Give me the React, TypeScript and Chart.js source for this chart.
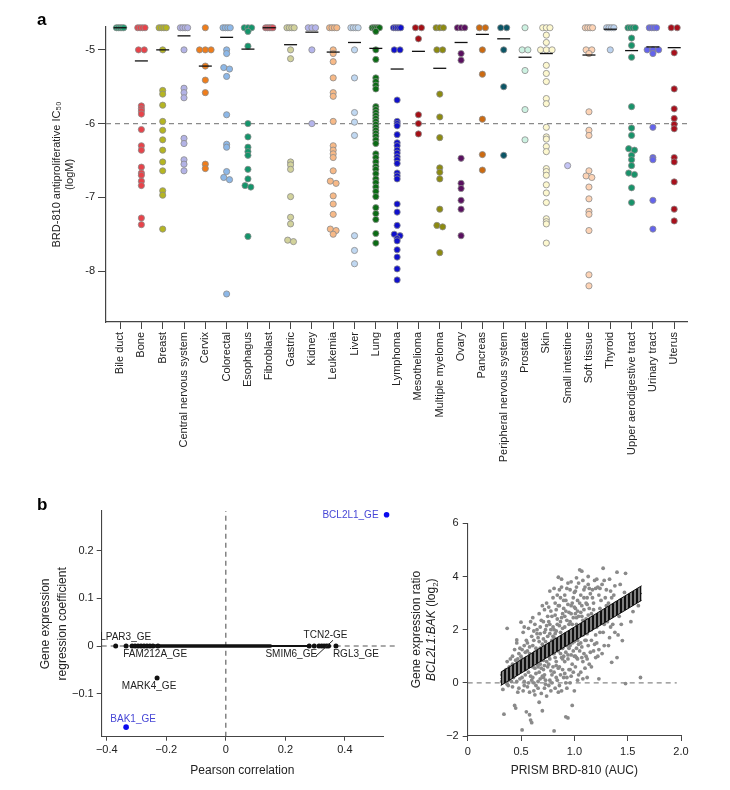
import React, { useEffect, useRef } from 'react';
import { Chart, registerables } from 'chart.js';

Chart.register(...registerables);

const FONT = '"Liberation Sans", Arial, Helvetica, sans-serif';
const NARROW = '"Liberation Sans Narrow", "Arial Narrow", "Liberation Sans", Arial, sans-serif';
Chart.defaults.font.family = FONT;

// ---------------- Panel a data ----------------
const TOP = -4.7;

const categories = [
  'Bile duct', 'Bone', 'Breast', 'Central nervous system', 'Cervix', 'Colorectal', 'Esophagus',
  'Fibroblast', 'Gastric', 'Kidney', 'Leukemia', 'Liver', 'Lung', 'Lymphoma', 'Mesothelioma',
  'Multiple myeloma', 'Ovary', 'Pancreas', 'Peripheral nervous system', 'Prostate', 'Skin',
  'Small intestine', 'Soft tissue', 'Thyroid', 'Upper aerodigestive tract', 'Urinary tract', 'Uterus',
];

const categoryColors = [
  '#1f9e73', '#e8434a', '#b5b521', '#b3b3e6', '#f07d1a', '#8db8e8', '#14956b',
  '#e0505a', '#d2d29b', '#b5b5ec', '#f7b987', '#c0d8f2', '#0b6b14', '#1010cc', '#a50f15',
  '#8c8a10', '#5a1060', '#cc6a10', '#0b5566', '#cdf2e2', '#fdf8cf',
  '#c4c4f5', '#fdd3b5', '#bcd3f0', '#17936a', '#6464ec', '#a8101c',
];

const bileDuct = [-4.7, -4.7, -4.7, -4.7, -4.7];
const bone = [-4.7, -4.7, -4.7, -4.7, -5.0, -5.0, -5.76, -5.8, -5.83, -5.87, -6.08, -6.3, -6.36, -6.59, -6.67, -6.7, -6.78, -6.84, -7.28, -7.37];
const breast = [-4.7, -4.7, -4.7, -4.7, -5.0, -5.55, -5.6, -5.75, -5.97, -6.09, -6.22, -6.36, -6.52, -6.64, -6.91, -6.97, -7.43];
const cns = [-4.7, -4.7, -4.7, -4.7, -5.0, -5.52, -5.58, -5.65, -6.2, -6.27, -6.49, -6.55, -6.64];
const cervix = [-4.7, -5.0, -5.0, -5.0, -5.22, -5.41, -5.58, -6.55, -6.61];
const colorectal = [-4.7, -4.7, -4.7, -4.7, -5.0, -5.05, -5.24, -5.26, -5.36, -5.88, -6.28, -6.32, -6.65, -6.73, -6.76, -8.31];
const esophagus = [-4.7, -4.7, -4.7, -4.75, -4.95, -6.0, -6.18, -6.32, -6.38, -6.43, -6.62, -6.75, -6.84, -6.86, -7.53];
const fibroblast = [-4.7, -4.7, -4.7, -4.7, -4.7];
const gastric = [-4.7, -4.7, -4.7, -4.7, -5.0, -5.12, -6.52, -6.56, -6.62, -6.99, -7.27, -7.36, -7.58, -7.6];
const kidney = [-4.7, -4.7, -4.7, -5.0, -6.0];
const leukemia = [-4.7, -4.7, -4.7, -4.7, -5.0, -5.05, -5.16, -5.38, -5.58, -5.63, -5.97, -6.3, -6.36, -6.41, -6.46, -6.64, -6.78, -6.81, -6.98, -7.09, -7.23, -7.43, -7.45, -7.5];
const liver = [-4.7, -4.7, -4.7, -4.7, -5.0, -5.38, -5.85, -5.98, -6.16, -7.52, -7.72, -7.9];
const lung = [-4.7, -4.7, -4.7, -4.7, -4.7, -4.75, -5.0, -5.13, -5.38, -5.43, -5.48, -5.53, -5.77, -5.81, -5.85, -5.89, -5.93, -5.97, -6.01, -6.05, -6.09, -6.13, -6.17, -6.22, -6.27, -6.41, -6.46, -6.52, -6.58, -6.62, -6.68, -6.75, -6.8, -6.86, -6.92, -6.99, -7.14, -7.22, -7.3, -7.49, -7.62];
const lymphoma = [-4.7, -4.7, -4.7, -4.7, -4.7, -5.0, -5.0, -5.68, -5.97, -6.0, -6.03, -6.15, -6.26, -6.3, -6.36, -6.4, -6.45, -6.49, -6.54, -6.67, -6.71, -6.75, -7.09, -7.2, -7.38, -7.5, -7.52, -7.56, -7.59, -7.71, -7.81, -7.97, -8.12];
const mesothelioma = [-4.7, -4.7, -4.85, -5.88, -6.0, -6.14];
const multipleMyeloma = [-4.7, -4.7, -4.7, -5.0, -5.0, -5.6, -5.91, -6.19, -6.6, -6.66, -6.75, -7.16, -7.38, -7.4, -7.75];
const ovary = [-4.7, -4.7, -4.7, -5.05, -5.14, -6.47, -6.81, -6.88, -7.04, -7.16, -7.52];
const pancreas = [-4.7, -4.7, -5.0, -5.33, -5.94, -6.42, -6.63];
const pns = [-4.7, -4.7, -5.0, -5.5, -6.43];
const prostate = [-4.7, -5.0, -5.0, -5.28, -5.81, -6.22];
const skin = [-4.7, -4.7, -4.7, -4.8, -4.9, -5.0, -5.0, -5.0, -5.21, -5.32, -5.43, -5.66, -5.73, -6.05, -6.18, -6.21, -6.31, -6.38, -6.61, -6.65, -6.7, -6.83, -6.94, -7.07, -7.29, -7.33, -7.36, -7.62];
const smallIntestine = [-6.57];
const softTissue = [-4.7, -4.7, -4.7, -4.7, -5.0, -5.0, -5.05, -5.84, -6.09, -6.16, -6.64, -6.71, -6.73, -6.86, -7.02, -7.19, -7.23, -7.45, -8.05, -8.2];
const thyroid = [-4.7, -4.7, -4.7, -4.7, -5.0];
const upperAerodigestive = [-4.7, -4.7, -4.7, -4.7, -4.84, -4.94, -5.1, -5.77, -6.06, -6.16, -6.34, -6.36, -6.43, -6.49, -6.57, -6.67, -6.69, -6.87, -7.07];
const urinaryTract = [-4.7, -4.7, -4.7, -4.7, -5.0, -5.0, -5.0, -5.05, -6.05, -6.46, -6.49, -7.04, -7.43];
const uterus = [-4.7, -4.7, -5.04, -5.53, -5.8, -5.93, -6.01, -6.07, -6.46, -6.52, -6.79, -7.16, -7.32];

const ic50ByCategory = [
  bileDuct, bone, breast, cns, cervix, colorectal, esophagus, fibroblast, gastric, kidney, leukemia,
  liver, lung, lymphoma, mesothelioma, multipleMyeloma, ovary, pancreas, pns, prostate, skin,
  smallIntestine, softTissue, thyroid, upperAerodigestive, urinaryTract, uterus,
];

const medianIC50: (number | null)[] = [
  -4.7, -5.15, -5.0, -4.81, -5.22, -4.83, -4.99, -4.7, -4.93, -4.76, -5.03, -4.9, -4.98, -5.26,
  -5.02, -5.25, -4.9, -4.79, -4.85, -5.1, -5.05, null, -5.07, -4.72, -5.01, -4.96, -4.97,
];
const ic50Ticks = [-8, -7, -6, -5];
const ic50Threshold = -6;

// ---------------- Panel b (left) data ----------------
const geneCorrelation = [-0.37, -0.335, -0.315, -0.305, -0.295, -0.285, -0.275, -0.265, -0.255, -0.245, -0.228, 0.28, 0.297, 0.313, 0.322, 0.33, 0.338, 0.345, 0.37, -0.231];
const geneCoefficient = [0, 0, 0, 0, 0, 0, 0, 0, 0, 0, 0, 0, 0, 0, 0, 0, 0, 0, 0, -0.067];
const highlightCorrelation = [-0.335, 0.54];
const highlightCoefficient = [-0.17, 0.275];
const bulkCorrelation = [-0.31, 0.15, 0.28];
const corrTicks = [-0.4, -0.2, 0, 0.2, 0.4];
const coefTicks = [-0.1, 0, 0.1, 0.2];
const geneLabels = [
  { text: 'BCL2L1_GE', x: 0.54, y: 0.275, blue: true },
  { text: 'BAK1_GE', x: -0.335, y: -0.17, blue: true },
  { text: 'LPAR3_GE', x: -0.37, y: 0 },
  { text: 'FAM212A_GE', x: -0.335, y: 0 },
  { text: 'MARK4_GE', x: -0.231, y: -0.067 },
  { text: 'TCN2-GE', x: 0.335, y: 0 },
  { text: 'SMIM6_GE', x: 0.297, y: 0 },
  { text: 'RGL3_GE', x: 0.37, y: 0 },
];
const labelLayout = [
  { dx: -8, dy: 0, align: 'right' },
  { dx: 7, dy: -8, align: 'center' },
  { dx: 10, dy: -9, align: 'center' },
  { dx: 29, dy: 8.5, align: 'center' },
  { dx: -8, dy: 8, align: 'center' },
  { dx: 0, dy: -10.5, align: 'center' },
  { dx: -23, dy: 8, align: 'center' },
  { dx: 20, dy: 8, align: 'center' },
];
const leaderLine = [[0.303, -0.021], [0.36, 0.012]];

// ---------------- Panel b (right) data ----------------
const prismPoints: [number, number][] = [
  [0.32, 0.05], [0.33, -0.25], [0.34, 0.4], [0.33, 0.2], [0.34, -1.18], [0.35, 0.15], [0.32, 0.3], [0.35, 0.45],
  [0.37, 2.05], [0.36, 0.5], [0.38, 0.1], [0.37, 0.8], [0.39, 0.35], [0.38, -0.1], [0.36, 0.25], [0.39, 0.6], [0.4, 0.9], [0.37, -0.05],
  [0.41, 0.45], [0.42, 1.0], [0.43, 0.2], [0.44, -0.85], [0.45, -0.95], [0.42, 0.7], [0.44, 1.25], [0.41, 0.05], [0.43, 0.55], [0.45, 0.85], [0.44, 0.3], [0.42, -0.15],
  [0.46, 1.61], [0.47, 0.9], [0.48, 0.4], [0.46, 0.05], [0.49, 1.3], [0.47, 0.65], [0.48, -0.2], [0.5, 2.28], [0.49, 0.75], [0.46, 0.35], [0.48, 1.1], [0.5, 0.5], [0.47, -0.35], [0.49, 0.15], [0.46, 1.5], [0.5, 1.0],
  [0.51, -1.77], [0.52, 0.6], [0.53, 1.4], [0.51, 0.9], [0.54, 0.3], [0.52, 1.9], [0.53, -0.1], [0.55, -1.09], [0.54, 1.15], [0.51, 0.2], [0.55, 0.75], [0.53, 2.1], [0.52, -0.3], [0.54, 0.5], [0.55, 1.6], [0.51, 1.25], [0.53, 0.05], [0.55, 0.95],
  [0.56, 1.5], [0.57, 0.4], [0.58, -1.2], [0.59, -1.4], [0.6, -1.5], [0.56, 0.85], [0.57, 2.05], [0.58, 1.1], [0.59, 0.25], [0.56, -0.15], [0.6, 1.75], [0.57, 0.6], [0.58, 1.35], [0.59, 0.95], [0.6, 0.1], [0.56, 1.2], [0.58, -0.35], [0.59, 2.3], [0.57, 0.0], [0.6, 0.65],
  [0.61, 1.4], [0.62, 0.8], [0.63, 2.2], [0.61, 0.2], [0.64, 1.1], [0.62, -0.3], [0.63, 0.55], [0.65, 1.85], [0.61, 0.95], [0.64, 0.35], [0.62, 1.6], [0.63, -0.45], [0.65, 0.7], [0.61, 2.45], [0.64, 1.3], [0.62, 0.0], [0.65, 1.0], [0.63, 1.15], [0.64, -0.1], [0.61, 0.6], [0.65, 2.0], [0.62, 1.95],
  [0.67, -0.73], [0.7, -1.05], [0.66, 1.2], [0.67, 0.4], [0.68, 2.1], [0.69, 0.85], [0.66, 1.7], [0.68, 0.15], [0.7, 1.45], [0.67, 2.6], [0.69, 0.55], [0.66, -0.2], [0.7, 1.0], [0.68, 1.3], [0.67, 0.9], [0.69, 2.35], [0.66, 0.6], [0.7, 0.25], [0.68, 1.85], [0.69, -0.4], [0.67, 1.55], [0.7, 2.9], [0.66, 0.05], [0.68, 0.7],
  [0.71, 1.2], [0.72, 0.3], [0.73, 2.0], [0.74, 0.8], [0.71, 1.65], [0.72, -0.2], [0.73, 1.0], [0.75, 2.5], [0.71, 0.5], [0.74, 1.4], [0.72, 2.75], [0.73, 0.1], [0.75, 1.1], [0.71, 0.85], [0.74, -0.5], [0.72, 1.9], [0.73, 1.55], [0.75, 0.6], [0.71, 2.3], [0.74, 3.0], [0.72, 0.65], [0.73, -0.05], [0.75, 1.75], [0.71, 0.2], [0.74, 2.15], [0.73, 1.3],
  [0.76, 1.0], [0.77, 2.2], [0.78, 0.45], [0.79, 1.6], [0.76, 2.85], [0.77, 0.1], [0.78, 1.3], [0.8, 3.2], [0.76, 0.7], [0.79, 2.5], [0.77, 1.85], [0.78, -0.3], [0.8, 1.1], [0.76, 1.45], [0.79, 0.3], [0.77, 3.45], [0.78, 2.0], [0.8, 0.6], [0.76, -0.1], [0.79, 1.25], [0.77, 0.9], [0.78, 2.7], [0.8, 1.75], [0.76, 2.3], [0.79, 0.0], [0.8, 2.1],
  [0.81, -1.81], [0.82, 1.5], [0.83, 0.8], [0.84, 2.4], [0.81, 1.1], [0.82, 3.0], [0.83, 0.2], [0.85, 3.97], [0.81, 2.0], [0.84, 1.3], [0.82, -0.2], [0.83, 2.75], [0.85, 0.55], [0.81, 1.7], [0.84, 3.3], [0.82, 0.95], [0.83, 1.95], [0.85, 1.2], [0.81, 0.4], [0.84, 2.2], [0.82, 2.55], [0.83, 1.45], [0.85, -0.35], [0.81, 3.55], [0.84, 0.1], [0.82, 1.85], [0.83, 0.65], [0.85, 2.9],
  [0.86, 1.4], [0.87, 2.3], [0.88, 3.9], [0.89, 0.9], [0.86, 2.9], [0.87, 0.3], [0.88, 1.75], [0.9, 3.1], [0.86, 0.6], [0.89, 2.05], [0.87, 1.1], [0.88, -0.3], [0.9, 1.5], [0.86, 3.5], [0.89, 2.6], [0.87, 1.9], [0.88, 0.95], [0.9, 0.2], [0.86, 2.15], [0.89, 1.3], [0.87, 3.2], [0.88, 2.45], [0.9, 2.8], [0.86, -0.1], [0.89, 0.5], [0.87, 1.6], [0.88, 3.6], [0.9, 1.0],
  [0.91, 2.1], [0.92, -1.28], [0.94, -1.32], [0.93, 1.4], [0.94, 3.75], [0.91, 0.8], [0.92, 2.7], [0.93, 0.2], [0.95, 1.9], [0.91, 3.3], [0.92, 1.15], [0.93, 2.35], [0.95, 0.5], [0.91, 1.6], [0.94, 2.95], [0.92, 0.0], [0.93, 3.55], [0.95, 1.3], [0.91, 2.5], [0.94, 0.9], [0.92, 1.85], [0.93, -0.2], [0.95, 2.65], [0.91, 0.35], [0.94, 1.05], [0.92, 3.1], [0.93, 1.7], [0.95, 2.2],
  [0.98, -0.85], [0.96, 1.4], [0.97, 2.6], [0.98, 0.7], [0.99, 3.2], [0.96, 1.9], [0.97, 0.25], [0.98, 2.2], [1.0, -0.3], [0.96, 3.5], [0.99, 1.2], [0.97, 1.65], [0.98, 3.0], [1.0, 1.0], [0.96, 0.5], [0.99, 2.45], [0.97, 3.8], [0.98, 1.5], [1.0, 2.85], [0.96, 2.3], [0.99, 0.4], [0.97, 1.05], [0.98, 2.0], [1.0, 3.4], [0.96, 0.0], [0.99, 1.75], [0.97, 2.9], [1.0, 1.55],
  [1.01, 1.9], [1.02, 3.6], [1.03, 0.9], [1.04, 2.5], [1.05, 4.25], [1.01, 2.8], [1.02, 1.3], [1.03, 3.1], [1.04, 0.3], [1.01, 0.6], [1.02, 2.2], [1.03, 1.6], [1.05, 3.0], [1.01, 3.45], [1.04, 1.95], [1.02, 0.95], [1.03, 2.7], [1.05, 1.2], [1.01, 1.0], [1.04, 3.75], [1.02, 2.45], [1.03, 0.1], [1.05, 2.05], [1.01, 2.6], [1.04, 1.45], [1.02, 3.95],
  [1.07, 4.2], [1.06, 1.5], [1.07, 2.9], [1.08, 0.8], [1.09, 2.2], [1.06, 3.3], [1.08, 1.8], [1.1, 3.6], [1.06, 0.4], [1.09, 1.1], [1.07, 2.5], [1.08, 3.85], [1.1, 1.6], [1.06, 2.1], [1.09, 2.75], [1.07, 0.95], [1.08, 2.35], [1.1, 0.55], [1.06, 2.65], [1.09, 3.2], [1.07, 1.35], [1.08, 0.15], [1.1, 2.0], [1.09, 3.5],
  [1.12, 0.2], [1.11, 2.4], [1.12, 3.2], [1.13, 1.4], [1.14, 2.8], [1.11, 1.0], [1.13, 3.7], [1.15, 2.1], [1.11, 3.0], [1.12, 1.85], [1.14, 0.7], [1.13, 2.55], [1.15, 3.35], [1.11, 1.6], [1.14, 2.0], [1.12, 2.95], [1.15, 1.15], [1.13, 4.0], [1.14, 3.55], [1.12, 0.9],
  [1.16, 2.6], [1.17, 3.5], [1.18, 1.2], [1.19, 2.2], [1.16, 0.6], [1.18, 3.0], [1.2, 1.8], [1.17, 2.45], [1.19, 3.85], [1.16, 1.6], [1.18, 2.75], [1.2, 0.95], [1.17, 3.2], [1.19, 1.45], [1.16, 2.0], [1.2, 3.55],
  [1.21, 2.1], [1.22, 3.6], [1.23, 0.15], [1.21, 1.5], [1.24, 2.8], [1.22, 1.0], [1.23, 3.3], [1.25, 2.4], [1.21, 3.9], [1.24, 1.9], [1.22, 2.55], [1.25, 3.1], [1.23, 1.25], [1.24, 3.55],
  [1.27, 4.31], [1.26, 2.5], [1.28, 1.4], [1.29, 3.2], [1.26, 3.7], [1.28, 2.2], [1.3, 2.9], [1.27, 1.9], [1.29, 2.6], [1.3, 3.5], [1.26, 1.1], [1.28, 3.85],
  [1.31, 2.3], [1.32, 3.0], [1.33, 1.7], [1.34, 3.45], [1.35, 0.77], [1.31, 2.7], [1.33, 3.9], [1.34, 2.1], [1.32, 1.4], [1.35, 3.2],
  [1.36, 2.6], [1.37, 3.3], [1.38, 1.9], [1.4, 0.95], [1.4, 4.16], [1.36, 2.2], [1.39, 3.0], [1.38, 3.65],
  [1.42, 2.5], [1.43, 3.1], [1.45, 1.59], [1.48, -0.03], [1.48, 4.12], [1.44, 2.2], [1.46, 2.8], [1.41, 1.8], [1.47, 3.4], [1.43, 3.7],
  [1.52, 3.0], [1.55, 2.68], [1.58, 3.2], [1.62, 0.2], [1.53, 2.3], [1.6, 2.9],
];
const regressionX = [0.31, 1.63];
const regressionFit = [0.15, 3.37];
const regressionLower = [-0.1, 3.1];
const regressionUpper = [0.4, 3.65];
const aucTicks = [0, 0.5, 1.0, 1.5, 2.0];
const ratioTicks = [-2, 0, 2, 4, 6];

// ---------------- helpers ----------------
function swarmOffsets(values: number[]) {
  const offs = values.map(() => 0);
  const top = values.map((v, i) => (v === TOP ? i : -1)).filter((i) => i >= 0);
  if (top.length === 2) {
    offs[top[0]] = -0.14;
    offs[top[1]] = 0.14;
  } else if (top.length > 2) {
    top.forEach((idx, k) => (offs[idx] = -0.17 + (0.34 * k) / (top.length - 1)));
  }
  const rest = values
    .map((v, i) => ({ v, i }))
    .filter((o) => o.v !== TOP)
    .sort((a, b) => b.v - a.v);
  let g: { v: number; i: number }[] = [];
  const flush = () => {
    g.forEach((o, k) => (offs[o.i] = (k - (g.length - 1) / 2) * 0.27));
    g = [];
  };
  for (const o of rest) {
    if (g.length && Math.abs(g[0].v - o.v) > 0.03) flush();
    g.push(o);
  }
  flush();
  return offs;
}

const minus = (s: string) => s.replace('-', '\u2212');

const axisCommon = {
  border: { color: '#444', width: 1.2 },
};

function panelLetter(letter: string, x: number, y: number) {
  return {
    id: 'letter' + letter,
    afterDraw(chart: any) {
      const ctx = chart.ctx;
      ctx.save();
      ctx.fillStyle = '#000';
      ctx.font = `bold 17px ${FONT}`;
      ctx.textAlign = 'left';
      ctx.textBaseline = 'alphabetic';
      ctx.fillText(letter, x, y);
      ctx.restore();
    },
  };
}

// ---------------- Panel a ----------------
function panelAConfig(): any {
  const datasets: any[] = [];
  datasets.push({
    data: medianIC50.map((m, i) => (m === null ? null : { x: i, y: m })).filter(Boolean),
    pointStyle: 'line',
    pointRadius: 6.5,
    borderColor: '#111',
    backgroundColor: '#111',
    borderWidth: 1.3,
    order: 0,
    clip: false,
  });
  ic50ByCategory.forEach((vals, i) => {
    const offs = swarmOffsets(vals);
    datasets.push({
      data: vals.map((v, k) => ({ x: i + offs[k], y: v })),
      backgroundColor: categoryColors[i],
      borderColor: '#8c8c8c',
      borderWidth: 0.8,
      pointRadius: 3.1,
      order: 1,
      clip: false,
    });
  });
  datasets.push({
    data: [
      { x: -0.66, y: ic50Threshold },
      { x: 26.6, y: ic50Threshold },
    ],
    showLine: true,
    borderColor: '#8a8a8a',
    borderWidth: 1.4,
    borderDash: [5, 4],
    pointRadius: 0,
    order: 2,
  });

  return {
    type: 'scatter',
    data: { datasets },
    options: {
      responsive: false,
      animation: false,
      devicePixelRatio: 1,
      events: [],
      layout: { padding: { left: 50, top: 27, right: 43, bottom: 0 } },
      plugins: { legend: { display: false }, tooltip: { enabled: false } },
      scales: {
        x: {
          type: 'linear',
          min: -0.66,
          max: 26.6,
          afterBuildTicks: (s: any) => {
            s.ticks = categories.map((_, i) => ({ value: i }));
          },
          afterFit: (s: any) => {
            s.height = 168;
          },
          ticks: {
            autoSkip: false,
            minRotation: 90,
            maxRotation: 90,
            padding: 3,
            color: '#222',
            font: { family: FONT, size: 11 },
            callback: (v: number) => categories[v],
          },
          grid: { drawOnChartArea: false, tickLength: 7, color: '#444' },
          ...axisCommon,
        },
        y: {
          min: -8.69,
          max: -4.69,
          afterBuildTicks: (s: any) => {
            s.ticks = ic50Ticks.map((v) => ({ value: v }));
          },
          afterFit: (s: any) => {
            s.width = 56;
          },
          ticks: { padding: 3, color: '#222', font: { family: FONT, size: 11 } },
          grid: { drawOnChartArea: false, tickLength: 8, color: '#444' },
          title: {
            display: true,
            text: ['BRD-810 antiproliferative IC\u2085\u2080', '(logM)'],
            color: '#222',
            font: { family: FONT, size: 11 },
            padding: 0,
          },
          ...axisCommon,
        },
      },
    },
    plugins: [panelLetter('a', 37, 25)],
  };
}

// ---------------- Panel b (left) ----------------
function panelBConfig(): any {
  const labelPlugin = {
    id: 'geneLabels',
    afterDatasetsDraw(chart: any) {
      const { ctx, scales } = chart;
      const xs = scales.x;
      const ys = scales.y;
      ctx.save();
      ctx.strokeStyle = '#222';
      ctx.lineWidth = 1;
      ctx.beginPath();
      ctx.moveTo(xs.getPixelForValue(leaderLine[0][0]), ys.getPixelForValue(leaderLine[0][1]));
      ctx.lineTo(xs.getPixelForValue(leaderLine[1][0]), ys.getPixelForValue(leaderLine[1][1]));
      ctx.stroke();
      ctx.font = `10px ${NARROW}`;
      ctx.textBaseline = 'middle';
      geneLabels.forEach((l, i) => {
        const lay = labelLayout[i];
        ctx.fillStyle = l.blue ? '#4646d6' : '#222';
        ctx.textAlign = lay.align;
        ctx.fillText(l.text, xs.getPixelForValue(l.x) + lay.dx, ys.getPixelForValue(l.y) + lay.dy);
      });
      ctx.restore();
    },
  };

  const datasets: any[] = [
    {
      data: highlightCorrelation.map((x, i) => ({ x, y: highlightCoefficient[i] })),
      backgroundColor: '#0a0aee',
      borderWidth: 0,
      pointRadius: 2.8,
      order: 0,
      clip: false,
    },
    {
      data: geneCorrelation.map((x, i) => ({ x, y: geneCoefficient[i] })),
      backgroundColor: '#111',
      borderWidth: 0,
      pointRadius: 2.5,
      order: 1,
    },
    {
      data: [
        { x: bulkCorrelation[0], y: 0 },
        { x: bulkCorrelation[1], y: 0 },
      ],
      showLine: true,
      borderColor: '#111',
      borderWidth: 3.5,
      borderCapStyle: 'round',
      pointRadius: 0,
      order: 1,
    },
    {
      data: [
        { x: bulkCorrelation[1], y: 0 },
        { x: bulkCorrelation[2], y: 0 },
      ],
      showLine: true,
      borderColor: '#111',
      borderWidth: 2,
      borderCapStyle: 'round',
      pointRadius: 0,
      order: 1,
    },
    {
      data: [
        { x: -0.417, y: 0 },
        { x: 0.575, y: 0 },
      ],
      showLine: true,
      borderColor: '#555',
      borderWidth: 1.1,
      borderDash: [5, 4],
      pointRadius: 0,
      order: 2,
      clip: false,
    },
    {
      data: [
        { x: 0, y: -0.19 },
        { x: 0, y: 0.283 },
      ],
      showLine: true,
      borderColor: '#555',
      borderWidth: 1.1,
      borderDash: [5, 4],
      pointRadius: 0,
      order: 2,
    },
  ];

  const fmt = (v: number) => (v === 0 ? '0' : minus(v.toFixed(1)));

  return {
    type: 'scatter',
    data: { datasets },
    options: {
      responsive: false,
      animation: false,
      devicePixelRatio: 1,
      events: [],
      layout: { padding: { left: 37, top: 21, right: 17, bottom: 0 } },
      plugins: { legend: { display: false }, tooltip: { enabled: false } },
      scales: {
        x: {
          type: 'linear',
          min: -0.417,
          max: 0.528,
          afterBuildTicks: (s: any) => {
            s.ticks = corrTicks.map((v) => ({ value: v }));
          },
          afterFit: (s: any) => {
            s.height = 53.3;
          },
          ticks: { padding: 3, color: '#222', font: { family: FONT, size: 11 }, callback: fmt },
          grid: { drawOnChartArea: false, tickLength: 4, color: '#444' },
          title: {
            display: true,
            text: 'Pearson correlation',
            color: '#222',
            font: { family: FONT, size: 12 },
            padding: { top: 0, bottom: 12 },
          },
          border: { color: '#444', width: 1.1 },
        },
        y: {
          min: -0.19,
          max: 0.283,
          afterBuildTicks: (s: any) => {
            s.ticks = coefTicks.map((v) => ({ value: v }));
          },
          afterFit: (s: any) => {
            s.width = 64.7;
          },
          ticks: { padding: 3, color: '#222', font: { family: FONT, size: 11 }, callback: fmt },
          grid: { drawOnChartArea: false, tickLength: 5, color: '#444' },
          title: {
            display: true,
            text: ['Gene expression', 'regression coefficient'],
            color: '#222',
            font: { family: FONT, size: 12, lineHeight: 1.4 },
            padding: 0,
          },
          border: { color: '#444', width: 1.1 },
        },
      },
    },
    plugins: [labelPlugin, panelLetter('b', 37, 20)],
  };
}

// ---------------- Panel b (right) ----------------
function panelCConfig(): any {
  const pc = document.createElement('canvas');
  pc.width = 4;
  pc.height = 4;
  const pctx = pc.getContext('2d')!;
  pctx.fillStyle = '#808080';
  pctx.fillRect(0, 0, 4, 4);
  pctx.fillStyle = '#111';
  pctx.fillRect(0, 0, 2, 4);
  const hatch = pctx.createPattern(pc, 'repeat');

  const titlePlugin = {
    id: 'ratioTitle',
    afterDraw(chart: any) {
      const { ctx, chartArea } = chart;
      const cy = (chartArea.top + chartArea.bottom) / 2;
      ctx.save();
      ctx.fillStyle = '#222';
      ctx.translate(17, cy);
      ctx.rotate(-Math.PI / 2);
      ctx.textAlign = 'center';
      ctx.textBaseline = 'middle';
      ctx.font = `12px ${FONT}`;
      ctx.fillText('Gene expression ratio', 0, 0);
      ctx.restore();

      const segs = [
        { t: 'BCL2L1:BAK', f: `italic 12px ${FONT}`, dy: 0 },
        { t: ' (log', f: `12px ${FONT}`, dy: 0 },
        { t: '2', f: `8px ${FONT}`, dy: 3.5 },
        { t: ')', f: `12px ${FONT}`, dy: 0 },
      ];
      ctx.save();
      ctx.fillStyle = '#222';
      ctx.translate(32, cy);
      ctx.rotate(-Math.PI / 2);
      ctx.textAlign = 'left';
      ctx.textBaseline = 'middle';
      let total = 0;
      segs.forEach((s) => {
        ctx.font = s.f;
        total += ctx.measureText(s.t).width;
      });
      let x = -total / 2;
      segs.forEach((s) => {
        ctx.font = s.f;
        ctx.fillText(s.t, x, s.dy);
        x += ctx.measureText(s.t).width;
      });
      ctx.restore();
    },
  };

  const datasets: any[] = [
    {
      data: regressionX.map((x, i) => ({ x, y: regressionLower[i] })),
      showLine: true,
      borderColor: '#111',
      borderWidth: 1,
      pointRadius: 0,
      order: 0,
    },
    {
      data: regressionX.map((x, i) => ({ x, y: regressionUpper[i] })),
      showLine: true,
      borderColor: '#111',
      borderWidth: 1,
      backgroundColor: hatch,
      fill: '-1',
      pointRadius: 0,
      order: 0,
    },
    {
      data: regressionX.map((x, i) => ({ x, y: regressionFit[i] })),
      showLine: true,
      borderColor: '#111',
      borderWidth: 1.3,
      pointRadius: 0,
      order: 0,
    },
    {
      data: prismPoints.map(([x, y]) => ({ x, y })),
      backgroundColor: '#8a8a8a',
      borderWidth: 0,
      pointRadius: 1.9,
      order: 1,
    },
    {
      data: [
        { x: 0, y: 0 },
        { x: 1.96, y: 0 },
      ],
      showLine: true,
      borderColor: '#888',
      borderWidth: 1.2,
      borderDash: [5, 4],
      pointRadius: 0,
      order: 2,
    },
  ];

  return {
    type: 'scatter',
    data: { datasets },
    options: {
      responsive: false,
      animation: false,
      devicePixelRatio: 1,
      events: [],
      layout: { padding: { left: 0, top: 33.3, right: 49, bottom: 0 } },
      plugins: { legend: { display: false }, tooltip: { enabled: false } },
      scales: {
        x: {
          type: 'linear',
          min: 0,
          max: 2.0,
          afterBuildTicks: (s: any) => {
            s.ticks = aucTicks.map((v) => ({ value: v }));
          },
          afterFit: (s: any) => {
            s.height = 54;
          },
          ticks: {
            padding: 4,
            color: '#222',
            font: { family: FONT, size: 11 },
            callback: (v: number) => (v === 0 ? '0' : v.toFixed(1)),
          },
          grid: { drawOnChartArea: false, tickLength: 5, color: '#444' },
          title: {
            display: true,
            text: 'PRISM BRD-810 (AUC)',
            color: '#222',
            font: { family: FONT, size: 12 },
            padding: { top: 0, bottom: 12 },
          },
          border: { color: '#444', width: 1.1 },
        },
        y: {
          min: -2,
          max: 6,
          afterBuildTicks: (s: any) => {
            s.ticks = ratioTicks.map((v) => ({ value: v }));
          },
          afterFit: (s: any) => {
            s.width = 67.7;
          },
          ticks: {
            padding: 4,
            color: '#222',
            font: { family: FONT, size: 11 },
            callback: (v: number) => minus(String(v)),
          },
          grid: { drawOnChartArea: false, tickLength: 5, color: '#444' },
          border: { color: '#444', width: 1.1 },
        },
      },
    },
    plugins: [titlePlugin],
  };
}

export default function App() {
  const aRef = useRef<HTMLCanvasElement>(null);
  const bRef = useRef<HTMLCanvasElement>(null);
  const cRef = useRef<HTMLCanvasElement>(null);

  useEffect(() => {
    const charts = [
      new Chart(aRef.current!, panelAConfig()),
      new Chart(bRef.current!, panelBConfig()),
      new Chart(cRef.current!, panelCConfig()),
    ];
    return () => charts.forEach((c) => c.destroy());
  }, []);

  return (
    <div style={{ position: 'absolute', left: 0, top: 0, width: 730, height: 790, background: '#fff' }}>
      <canvas ref={aRef} width={730} height={490} style={{ position: 'absolute', left: 0, top: 0 }} />
      <canvas ref={bRef} width={400} height={300} style={{ position: 'absolute', left: 0, top: 490 }} />
      <canvas ref={cRef} width={330} height={300} style={{ position: 'absolute', left: 400, top: 490 }} />
    </div>
  );
}
